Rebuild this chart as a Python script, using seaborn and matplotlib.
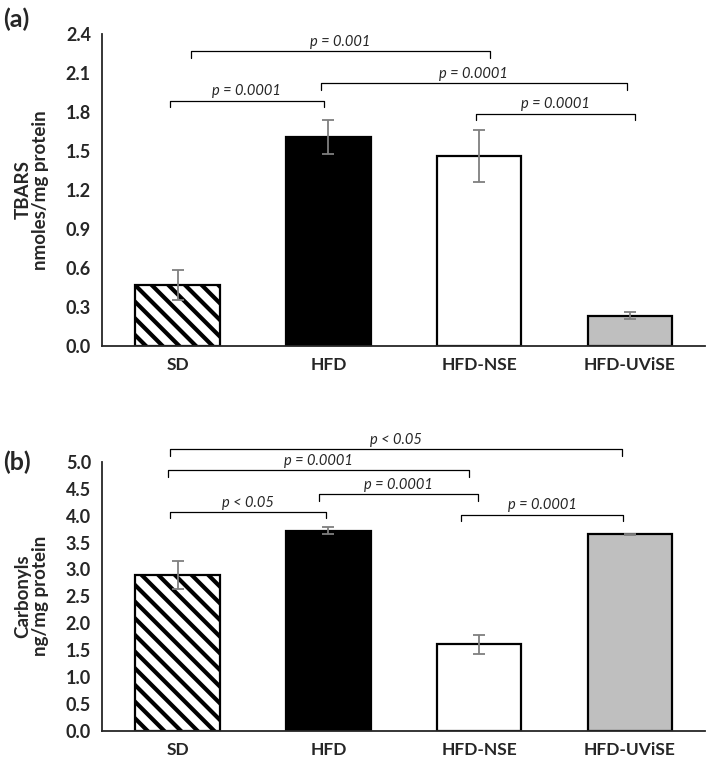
import matplotlib
matplotlib.use("Agg")
import matplotlib.pyplot as plt
import seaborn as sns
import pandas as pd

# ---------------------------
# Data
# ---------------------------
groups = ["SD", "HFD", "HFD-NSE", "HFD-UViSE"]
tbars = [0.47, 1.61, 1.465, 0.233]
tbars_err = [0.115, 0.13, 0.20, 0.027]
carbonyls = [2.89, 3.72, 1.61, 3.65]
carbonyls_err = [0.26, 0.065, 0.18, 0.015]

# brackets: (x_left, x_right, y, p-label)
tbars_brackets = [
    (0.09, 2.07, 2.267, "p = 0.001"),
    (0.95, 2.98, 2.022, "p = 0.0001"),
    (-0.05, 0.97, 1.886, "p = 0.0001"),
    (1.98, 3.03, 1.788, "p = 0.0001"),
]
carbonyl_brackets = [
    (-0.05, 2.95, 5.236, "p < 0.05"),
    (-0.06, 1.93, 4.84, "p = 0.0001"),
    (0.94, 1.99, 4.395, "p = 0.0001"),
    (-0.05, 0.985, 4.07, "p < 0.05"),
    (1.88, 2.955, 4.02, "p = 0.0001"),
]

colors = ["white", "black", "white", "#bfbfbf"]

sns.set_style("white")
plt.rcParams["font.family"] = ["Lato", "DejaVu Sans"]
plt.rcParams["hatch.linewidth"] = 3.0


def draw_panel(ax, values, errs, brackets, ymax, step, ylabel, leg, txt_off):
    df = pd.DataFrame({"group": groups, "value": values})
    sns.barplot(data=df, x="group", y="value", ax=ax, width=0.56,
                errorbar=None, edgecolor="black", linewidth=1.6)
    for i, bar in enumerate(ax.patches):
        bar.set_facecolor(colors[i])
        if i == 0:
            bar.set_hatch("\\\\")
    xs = [b.get_x() + b.get_width() / 2 for b in ax.patches]
    ax.errorbar(xs, values, yerr=errs, fmt="none", ecolor="#7f7f7f",
                elinewidth=1.3, capsize=4, capthick=1.3)

    for x0, x1, y, lab in brackets:
        ax.plot([x0, x0, x1, x1], [y - leg, y, y, y - leg], color="black",
                lw=0.9, clip_on=False)
        ax.text((x0 + x1) / 2, y + txt_off, lab, ha="center", va="bottom",
                fontsize=10.5, style="italic", clip_on=False)

    ax.set_xlim(-0.5, 3.5)
    ax.set_ylim(0, ymax)
    n = int(round(ymax / step))
    ax.set_yticks([i * step for i in range(n + 1)])
    ax.set_yticklabels([f"{i * step:.1f}" for i in range(n + 1)])
    ax.set_xlabel("")
    ax.set_ylabel(ylabel, fontsize=13.5, fontweight="bold", linespacing=1.05)
    ax.yaxis.set_label_coords(-0.088, 0.5)
    sns.despine(ax=ax)
    ax.spines["left"].set_linewidth(1.3)
    ax.spines["bottom"].set_linewidth(1.3)
    ax.tick_params(axis="y", length=4, width=1.2, labelsize=13, pad=4)
    ax.tick_params(axis="x", length=0, labelsize=12.5, pad=8)
    for t in ax.get_xticklabels() + ax.get_yticklabels():
        t.set_fontweight("bold")


fig = plt.figure(figsize=(7.09, 7.71), dpi=100)
ax1 = fig.add_axes([0.144, 0.551, 0.851, 0.405])
ax2 = fig.add_axes([0.144, 0.052, 0.851, 0.349])

draw_panel(ax1, tbars, tbars_err, tbars_brackets, 2.4, 0.3,
           "TBARS\nnmoles/mg protein", 0.05, 0.02)
draw_panel(ax2, carbonyls, carbonyls_err, carbonyl_brackets, 5.0, 0.5,
           "Carbonyls\nng/mg protein", 0.12, 0.04)

fig.text(0.005, 0.975, "(a)", fontsize=18, fontweight="bold", va="center")
fig.text(0.005, 0.40, "(b)", fontsize=18, fontweight="bold", va="center")

fig.savefig("out.png", dpi=100)
